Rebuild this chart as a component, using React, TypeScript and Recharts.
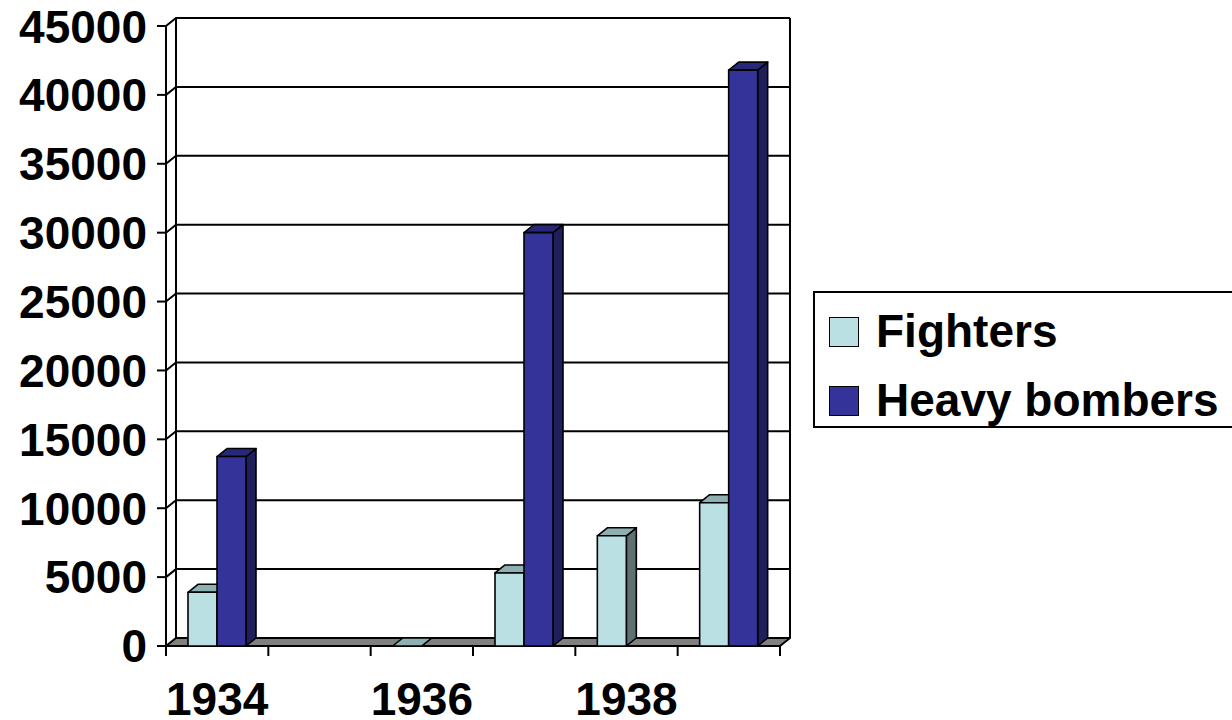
import { BarChart, Bar, XAxis, YAxis, CartesianGrid } from "recharts";

const years = ["1934", "1935", "1936", "1937", "1938", "1939"];
const fighters: (number | null)[] = [3900, null, 0, 5300, 8000, 10400];
const heavyBombers: (number | null)[] = [13750, null, null, 30000, null, 41800];
const yTicks = [0, 5000, 10000, 15000, 20000, 25000, 30000, 35000, 40000, 45000];
const seriesNames = ["Fighters", "Heavy bombers"];

const FONT = "'Liberation Sans', Arial, Helvetica, sans-serif";
const DX = 10; // depth of the 3d box
const DY = 8;
const X_TICK_SIZE = 10;
const X_TICK_MARGIN = 26;

const colors = {
  fighters: { front: "#BBE0E3", top: "#8FB0B2", side: "#5E7072" },
  bombers: { front: "#333399", top: "#28287A", side: "#1F1F5C" },
};

const chartData = years.map((year, i) => ({
  year,
  [seriesNames[0]]: fighters[i],
  [seriesNames[1]]: heavyBombers[i],
}));

// back wall gridlines, the floor and the wall edges
function WallLine(props: any) {
  const { x1, x2, y1, y, height } = props;
  const bottom = y + height;
  if (Math.abs(y1 - bottom) < 0.5) {
    return (
      <g>
        <line x1={x1 + DX} y1={y - DY} x2={x1 + DX} y2={bottom - DY} stroke="#000" strokeWidth={2} />
        <line x1={x2 + DX} y1={y - DY} x2={x2 + DX} y2={bottom - DY} stroke="#000" strokeWidth={2} />
        <polygon
          points={`${x1},${bottom} ${x2},${bottom} ${x2 + DX},${bottom - DY} ${x1 + DX},${bottom - DY}`}
          fill="#808080"
          stroke="#000"
          strokeWidth={2}
          strokeLinejoin="round"
        />
      </g>
    );
  }
  return (
    <polyline
      points={`${x1},${y1} ${x1 + DX},${y1 - DY} ${x2 + DX},${y1 - DY}`}
      fill="none"
      stroke="#000"
      strokeWidth={2}
    />
  );
}

function makeBox(c: { front: string; top: string; side: string }, key: string) {
  return (props: any) => {
    const { x, y, width, height, payload } = props;
    if (!payload || payload[key] == null) return <g />;
    const r = x + width;
    const b = y + height;
    return (
      <g stroke="#000" strokeWidth={1.6} strokeLinejoin="round">
        <polygon points={`${r},${y} ${r + DX},${y - DY} ${r + DX},${b - DY} ${r},${b}`} fill={c.side} />
        <polygon points={`${x},${y} ${r},${y} ${r + DX},${y - DY} ${x + DX},${y - DY}`} fill={c.top} />
        <rect x={x} y={y} width={width} height={height} fill={c.front} />
      </g>
    );
  };
}

function YearTick(props: any) {
  const { x, y, payload, index, visibleTicksCount, width } = props;
  const half = payload?.offset ?? width / visibleTicksCount / 2;
  const axisY = y - X_TICK_SIZE - X_TICK_MARGIN;
  return (
    <g>
      <line x1={x - half} y1={axisY} x2={x - half} y2={axisY + X_TICK_SIZE} stroke="#000" strokeWidth={2} />
      {index === visibleTicksCount - 1 && (
        <line x1={x + half} y1={axisY} x2={x + half} y2={axisY + X_TICK_SIZE} stroke="#000" strokeWidth={2} />
      )}
      {index % 2 === 0 && (
        <text
          x={x}
          y={y}
          dy="0.71em"
          textAnchor="middle"
          fontFamily={FONT}
          fontWeight={700}
          fontSize={46}
          fill="#000"
        >
          {payload.value}
        </text>
      )}
    </g>
  );
}

export default function App() {
  const legendItems = [
    { name: seriesNames[0], color: colors.fighters.front },
    { name: seriesNames[1], color: colors.bombers.front },
  ];

  return (
    <div
      style={{
        position: "absolute",
        left: 0,
        top: 0,
        width: 1232,
        height: 720,
        background: "#fff",
        fontFamily: FONT,
        overflow: "hidden",
      }}
    >
      <BarChart
        width={1232}
        height={720}
        data={chartData}
        margin={{ top: 26, right: 452, bottom: 14, left: 16 }}
        barSize={29}
        barGap={0}
      >
        <CartesianGrid vertical={false} horizontal={WallLine} stroke="#000" />
        <XAxis
          dataKey="year"
          height={60}
          interval={0}
          axisLine={false}
          tickLine={false}
          tickSize={X_TICK_SIZE}
          tickMargin={X_TICK_MARGIN}
          tick={YearTick}
        />
        <YAxis
          type="number"
          domain={[0, 45000]}
          ticks={yTicks}
          width={150}
          tickSize={9}
          tickMargin={10}
          axisLine={{ stroke: "#000", strokeWidth: 2 }}
          tickLine={{ stroke: "#000", strokeWidth: 2 }}
          tick={{ fontSize: 46, fontWeight: 700, fill: "#000", fontFamily: FONT }}
        />
        <Bar
          dataKey={seriesNames[0]}
          fill={colors.fighters.front}
          shape={makeBox(colors.fighters, seriesNames[0])}
          isAnimationActive={false}
        />
        <Bar
          dataKey={seriesNames[1]}
          fill={colors.bombers.front}
          shape={makeBox(colors.bombers, seriesNames[1])}
          isAnimationActive={false}
        />
      </BarChart>

      {/* Legend */}
      <div
        style={{
          position: "absolute",
          left: 813,
          top: 291,
          width: 440,
          height: 137,
          border: "2px solid #000",
          background: "#fff",
          paddingTop: 4,
          boxSizing: "border-box",
        }}
      >
        {legendItems.map((item) => (
          <div
            key={item.name}
            style={{ display: "flex", alignItems: "center", height: 69, fontSize: 46, fontWeight: 700, lineHeight: "69px" }}
          >
            <span
              style={{
                display: "inline-block",
                width: 28,
                height: 28,
                marginLeft: 14,
                marginRight: 17,
                background: item.color,
                border: "1.5px solid #000",
              }}
            />
            <span style={{ color: "#000", whiteSpace: "nowrap" }}>{item.name}</span>
          </div>
        ))}
      </div>
    </div>
  );
}
